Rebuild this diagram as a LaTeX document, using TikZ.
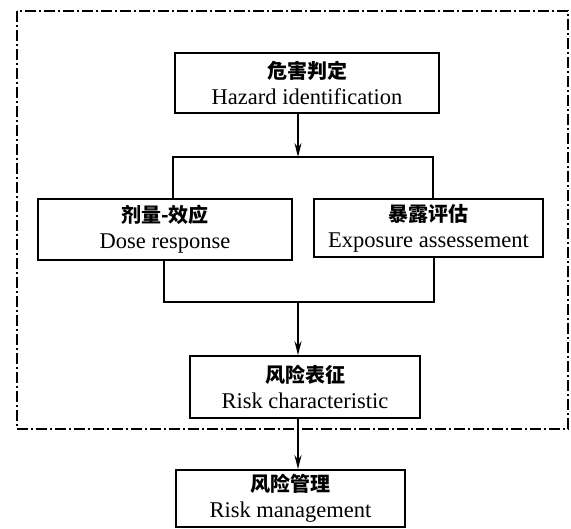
\documentclass[tikz,border=0pt]{standalone}
\usepackage{fontspec}
\setmainfont{Liberation Serif}
\newfontfamily\cjk{Noto Sans CJK SC}
\usetikzlibrary{arrows.meta,positioning}

\begin{document}
\begin{tikzpicture}[x=1pt,y=-1pt,>={Stealth[length=14pt,width=7pt]}]

    \tikzstyle{commonNode}=[draw=black, line width=1.6pt, align=center, inner sep=0pt, font=\fontsize{22.5}{26}\selectfont]
    \tikzstyle{stage}=[commonNode, rectangle]
    \tikzstyle{link}=[line width=1.5pt]
    \tikzstyle{frame}=[line width=1.4pt, dash pattern=on 11pt off 3pt on 2pt off 3pt]

    \useasboundingbox (0,0) rectangle (571,529);

    % Assessment frame
    \draw[frame] (17,11) rectangle (568,429);

    % Stages
    \node at (307,83)   [stage, minimum width=264pt, minimum height=60pt] (hazard) {{\cjk\bfseries\fontsize{20}{26}\selectfont 危害判定}\\ Hazard identification};
    \node at (165,229.5)[stage, minimum width=254pt, minimum height=61pt] (dose)   {{\cjk\bfseries\fontsize{20}{26}\selectfont 剂量-效应}\\ Dose response};
    \node at (428.5,228)[stage, minimum width=229pt, minimum height=58pt] (expo)   {{\cjk\bfseries\fontsize{20}{26}\selectfont 暴露评估}\\ Exposure assessement};
    \node at (305,387)  [stage, minimum width=230pt, minimum height=62pt] (riskc)  {{\cjk\bfseries\fontsize{20}{26}\selectfont 风险表征}\\ Risk characteristic};
    \node at (290.5,498.5)[stage, minimum width=229pt, minimum height=57pt] (riskm) {{\cjk\bfseries\fontsize{20}{26}\selectfont 风险管理}\\ Risk management};

    % Junction points
    \coordinate (topmid) at (298,157);
    \coordinate (topl)   at (173,157);
    \coordinate (topr)   at (433,157);
    \coordinate (botl)   at (164,302);
    \coordinate (botr)   at (434,302);
    \coordinate (botmid) at (298,302);

    % Connectors
    \draw[link,->] (hazard.south -| topmid) -- (topmid);
    \draw[link] (dose.north -| topl) |- (topr) -- (expo.north -| topr);
    \draw[link] (dose.south -| botl) |- (botr) -- (expo.south -| botr);
    \draw[link,->] (botmid) -- (riskc.north -| botmid);
    \draw[link,->] (riskc.south -| botmid) -- (riskm.north -| botmid);

\end{tikzpicture}
\end{document}
